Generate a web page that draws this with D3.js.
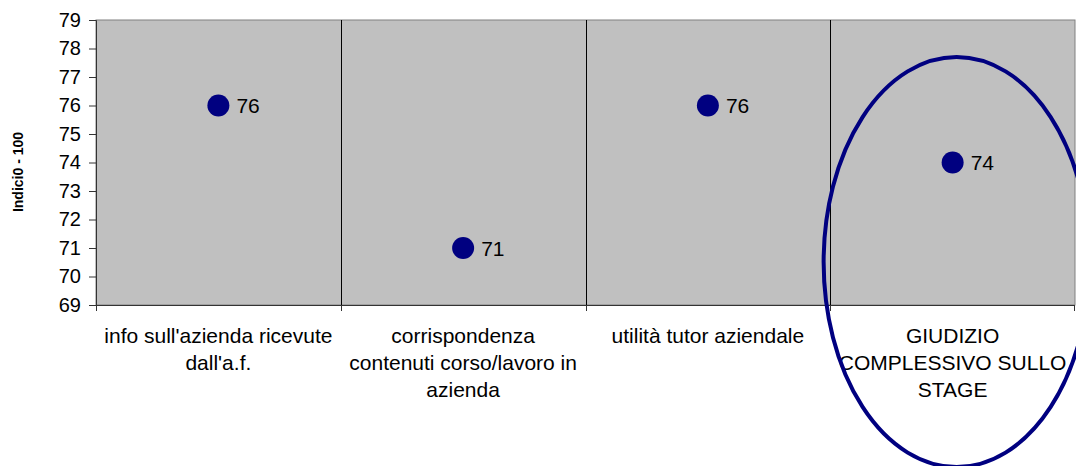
<!DOCTYPE html>
<html>
<head>
<meta charset="utf-8">
<script src="https://cdn.jsdelivr.net/npm/d3@7"></script>
<style>
  html, body { margin: 0; padding: 0; background: #fff; }
  svg { display: block; font-family: "Liberation Sans", Arial, sans-serif; }
</style>
</head>
<body>
<svg id="chart" width="1076" height="466"></svg>
<script>
// Survey indicators (scale 0-100)
const categories = [
  ["info sull'azienda ricevute", "dall'a.f."],
  ["corrispondenza", "contenuti corso/lavoro in", "azienda"],
  ["utilità tutor aziendale"],
  ["GIUDIZIO", "COMPLESSIVO SULLO", "STAGE"]
];
const values = [76, 71, 76, 74];
const yTicks = [69, 70, 71, 72, 73, 74, 75, 76, 77, 78, 79];
const yTitle = "Indici0 - 100";

const svg = d3.select("#chart");
const plot = { left: 96, top: 20, right: 1075, bottom: 305 };

const x = d3.scaleBand()
  .domain(d3.range(categories.length))
  .range([plot.left, plot.right])
  .paddingInner(0).paddingOuter(0);

const y = d3.scaleLinear()
  .domain([69, 79])
  .range([plot.bottom, plot.top]);

// plot background
svg.append("rect")
  .attr("x", plot.left).attr("y", plot.top)
  .attr("width", plot.right - plot.left).attr("height", plot.bottom - plot.top)
  .attr("fill", "#c0c0c0")
  .attr("stroke", "#808080").attr("stroke-width", 1);

// category dividers
svg.append("g")
  .selectAll("line")
  .data(d3.range(1, categories.length))
  .join("line")
  .attr("x1", d => Math.round(x(d)) + 0.5).attr("x2", d => Math.round(x(d)) + 0.5)
  .attr("y1", plot.top).attr("y2", plot.bottom + 6)
  .attr("stroke", "#000").attr("stroke-width", 1);

// y axis
const yAxis = svg.append("g")
  .attr("transform", `translate(${plot.left},0)`)
  .call(d3.axisLeft(y).tickValues(yTicks).tickSize(7).tickPadding(8).tickFormat(d3.format("d")));
yAxis.select(".domain").attr("stroke", "#333");
yAxis.selectAll(".tick line").attr("stroke", "#333");
yAxis.selectAll(".tick text")
  .attr("font-size", 20).attr("fill", "#000")
  .attr("font-family", "Liberation Sans, Arial, sans-serif");

// x axis baseline with ticks at category boundaries
svg.append("line")
  .attr("x1", plot.left - 7).attr("x2", plot.right)
  .attr("y1", plot.bottom + 0.5).attr("y2", plot.bottom + 0.5)
  .attr("stroke", "#333");
svg.append("g")
  .selectAll("line")
  .data(d3.range(0, categories.length + 1))
  .join("line")
  .attr("x1", d => (d === categories.length ? plot.right - 0.5 : Math.round(x(d)) + 0.5))
  .attr("x2", d => (d === categories.length ? plot.right - 0.5 : Math.round(x(d)) + 0.5))
  .attr("y1", plot.bottom).attr("y2", plot.bottom + 6)
  .attr("stroke", "#333");

// category labels
const lab = svg.append("g");
categories.forEach((lines, i) => {
  const t = lab.append("text")
    .attr("x", x(i) + x.bandwidth() / 2)
    .attr("y", 343)
    .attr("text-anchor", "middle")
    .attr("font-size", 21)
    .attr("fill", "#000");
  lines.forEach((ln, j) => {
    t.append("tspan")
      .attr("x", x(i) + x.bandwidth() / 2)
      .attr("dy", j === 0 ? 0 : 27)
      .text(ln);
  });
});

// y title
svg.append("text")
  .attr("transform", `translate(23,172) rotate(-90)`)
  .attr("text-anchor", "middle")
  .attr("font-size", 14)
  .attr("font-weight", "bold")
  .attr("fill", "#000")
  .text(yTitle);

// points
const pts = svg.append("g");
pts.selectAll("circle")
  .data(values)
  .join("circle")
  .attr("cx", (d, i) => x(i) + x.bandwidth() / 2)
  .attr("cy", d => y(d))
  .attr("r", 11)
  .attr("fill", "#000080");

pts.selectAll("text")
  .data(values)
  .join("text")
  .attr("x", (d, i) => x(i) + x.bandwidth() / 2 + 18)
  .attr("y", d => y(d) + 7.5)
  .attr("font-size", 21)
  .attr("fill", "#000")
  .text(d => d);

// highlight ring around the overall judgement
const last = categories.length - 1;
svg.append("ellipse")
  .attr("cx", x(last) + x.bandwidth() / 2 + 4)
  .attr("cy", 262)
  .attr("rx", 133)
  .attr("ry", 205)
  .attr("fill", "none")
  .attr("stroke", "#000080")
  .attr("stroke-width", 4);
</script>
</body>
</html>
